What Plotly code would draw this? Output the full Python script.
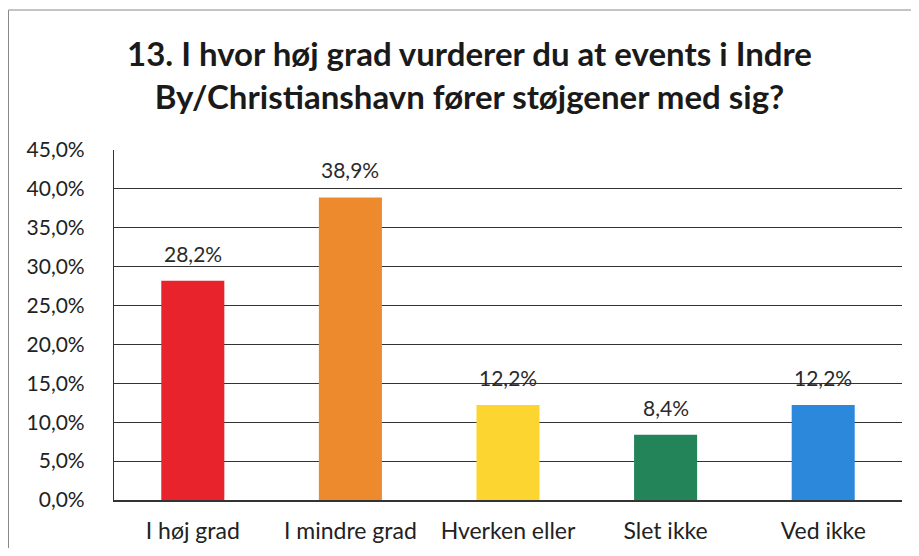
import plotly.graph_objects as go

categories = ["I høj grad", "I mindre grad", "Hverken eller", "Slet ikke", "Ved ikke"]
values = [0.282, 0.389, 0.122, 0.084, 0.122]
colors = ["#E8232B", "#EE8A2E", "#FDD531", "#23845A", "#2C88DA"]
title_text = "13. I hvor høj grad vurderer du at events i Indre<br>By/Christianshavn fører støjgener med sig?"

# the page body has an 8px default margin, so the figure is sized for it
W, H = 903, 540
ml, mr, mt, mb = 106, 9, 142, 48
pw = W - ml - mr
ph = H - mt - mb

FONT = "Lato, Open Sans, sans-serif"

fig = go.Figure(go.Bar(
    x=categories, y=values,
    marker=dict(color=colors, line=dict(width=0)),
    hovertemplate="%{x}: %{y:.1%}<extra></extra>",
))

def px_x(fx):
    return (fx - ml) / pw

def px_y(fy):
    return (H - mb - fy) / ph

label_annotations = [
    dict(x=c, y=v, xref="x", yref="y", text=f"{v * 100:.1f}%".replace(".", ","),
         showarrow=False, xanchor="center", yanchor="bottom", yshift=13,
         font=dict(size=21, color="#2a2a2a", family=FONT))
    for c, v in zip(categories, values)
]

fig.update_layout(
    width=W, height=H,
    margin=dict(l=ml, r=mr, t=mt, b=mb, autoexpand=False),
    paper_bgcolor="white", plot_bgcolor="white",
    separators=",.",
    showlegend=False,
    bargap=0.6,
    font=dict(family=FONT, color="#222222"),
    xaxis=dict(showgrid=False, showline=True, linecolor="#333333", linewidth=1.5,
               automargin=False,
               tickfont=dict(size=23, color="#222222"), ticks="", ticklabelstandoff=10),
    yaxis=dict(range=[0, 0.45], dtick=0.05, tickformat=".1%",
               automargin=False,
               showgrid=True, gridcolor="#333333", gridwidth=1.2,
               showline=True, linecolor="#333333", linewidth=1.2,
               zeroline=False, ticks="", ticklabelstandoff=24,
               tickfont=dict(size=21, color="#222222")),
    annotations=[dict(
        text=title_text, xref="paper", yref="paper",
        x=px_x(461), y=px_y(66), xanchor="center", yanchor="middle",
        showarrow=False, align="center",
        font=dict(size=33, color="#1a1a1a", family=FONT, weight="bold"),
    )] + label_annotations,
    shapes=[
        dict(type="line", xref="paper", yref="paper",
             x0=px_x(0.5), x1=px_x(0.5), y0=px_y(H), y1=px_y(2),
             line=dict(color="#888888", width=1)),
        dict(type="line", xref="paper", yref="paper",
             x0=px_x(0.5), x1=px_x(W), y0=px_y(2), y1=px_y(2),
             line=dict(color="#888888", width=1)),
    ],
)

fig.write_html("out.html")
